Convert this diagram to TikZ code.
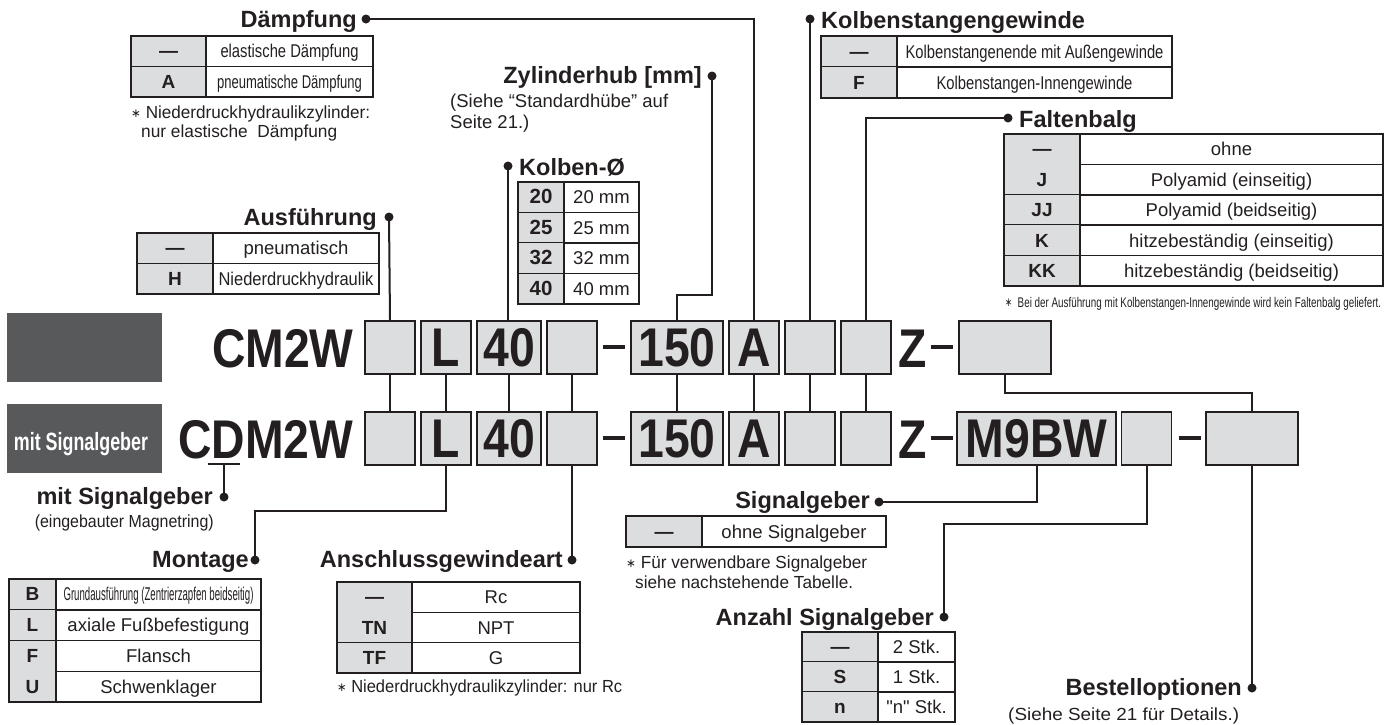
\documentclass[tikz,border=0pt]{standalone}
\usepackage{fontspec}
\setmainfont{Liberation Sans}
\newfontfamily\symf{DejaVu Sans}
\newfontfamily\plainf{Liberation Sans}
\usepackage{graphicx}
\usetikzlibrary{calc}
\definecolor{ink}{HTML}{231F20}
\definecolor{boxgray}{HTML}{DCDDDE}
\definecolor{slab}{HTML}{58595B}
\newcommand\fitw[2]{\resizebox{#1pt}{\height}{#2}}
\newcommand\fnstar{\raisebox{0.5pt}{\symf\fontsize{12}{12}\selectfont ∗}}
\newcommand\cdtxt[1]{\scalebox{0.85}[1]{\fontsize{54.5}{56}\selectfont\bfseries #1}}
\tikzset{
  ln/.style={line width=2pt, draw=ink},
  codebox/.style={draw=ink, line width=1.6pt, fill=boxgray, inner sep=0pt, minimum height=53pt, minimum width=50pt, text=ink},
  dotn/.style={circle, fill=ink, inner sep=0pt, minimum size=9pt},
  lbl/.style={font=\fontsize{23.5}{28}\selectfont\bfseries, inner sep=0pt, text=ink},
  keytxt/.style={font=\fontsize{19}{22}\selectfont\bfseries, inner sep=0pt, anchor=base, text=ink},
  valtxt/.style={font=\fontsize{18.5}{22}\selectfont, inner sep=0pt, anchor=base, text=ink},
  fn/.style={font=\fontsize{17.5}{20}\selectfont, inner sep=0pt, anchor=base west, text=ink},
  tbouter/.style={draw=ink, line width=2pt},
  tbinner/.style={draw=ink, line width=1.5pt},
  dashbar/.style={fill=ink, inner sep=0pt, minimum width=22pt, minimum height=4pt},
  codetxt/.style={inner sep=0pt, text=ink},
}
\newcommand\mktable[7]{%
  \foreach \k/\v [count=\i] in {#7} {%
    \pgfmathsetmacro\ya{#5+(\i-1)*#6}%
    \pgfmathsetmacro\yb{#5+\i*#6}%
    \pgfmathsetmacro\ybase{#5+(\i-0.5)*#6+6.6}%
    \fill[boxgray] (#2,\ya) rectangle (#3,\yb);
    \draw[tbinner] (#2,\yb) -- (#4,\yb);
    \node[keytxt] (#1k\i) at ({(#2+#3)/2},\ybase) {\k};
    \node[valtxt] (#1v\i) at ({(#3+#4)/2},\ybase) {\v};
    \xdef\lastrow{\yb}%
  }%
  \draw[tbinner] (#3,#5) -- (#3,\lastrow);
  \draw[tbouter] (#2,#5) rectangle (#4,\lastrow);
}
\begin{document}
\begin{tikzpicture}[x=1pt,y=-1pt]
\useasboundingbox (0,0) rectangle (1391,724);

% ---------- dark side boxes ----------
\node[fill=slab, inner sep=0pt, minimum width=155pt, minimum height=69pt] (darkA) at (84.5,347.5) {};
\node[fill=slab, inner sep=0pt, minimum width=155pt, minimum height=69pt] (darkB) at (84.5,438.5) {};
\node[font=\fontsize{25}{27}\selectfont\bfseries, text=white, inner sep=0pt, anchor=base] (darkBt) at (81,450) {\fitw{134}{mit Signalgeber}};

% ---------- code rows ----------
\node[codetxt, anchor=base west] (cm) at (212,367) {\cdtxt{CM2W}};
\node[codetxt, anchor=base west] (cdm) at (178,458) {\cdtxt{CDM2W}};

\node[codebox] (t1) at (390,347.5) {};
\node[codebox] (tL) at (446,347.5) {\cdtxt{L}};
\node[codebox, minimum width=64pt] (t40) at (509,347.5) {\cdtxt{40}};
\node[codebox] (t4) at (572,347.5) {};
\node[dashbar] (tdash) at (614,347) {};
\node[codebox, minimum width=92pt] (t150) at (677,347.5) {\cdtxt{150}};
\node[codebox] (tA) at (754,347.5) {\cdtxt{A}};
\node[codebox] (t7) at (810,347.5) {};
\node[codebox] (t8) at (866,347.5) {};
\node[codetxt, anchor=base west] (tZ) at (898,367) {\cdtxt{Z}};
\node[dashbar] (tdash2) at (942,347) {};
\node[codebox, minimum width=92pt] (t9) at (1005,347.5) {};

\node[codebox] (u1) at (390,438.5) {};
\node[codebox] (uL) at (446,438.5) {\cdtxt{L}};
\node[codebox, minimum width=64pt] (u40) at (509,438.5) {\cdtxt{40}};
\node[codebox] (u4) at (572,438.5) {};
\node[dashbar] (udash) at (614,438) {};
\node[codebox, minimum width=92pt] (u150) at (677,438.5) {\cdtxt{150}};
\node[codebox] (uA) at (754,438.5) {\cdtxt{A}};
\node[codebox] (u7) at (810,438.5) {};
\node[codebox] (u8) at (866,438.5) {};
\node[codetxt, anchor=base west] (uZ) at (898,458) {\cdtxt{Z}};
\node[dashbar] (udash2) at (942,438) {};
\node[codebox, minimum width=159pt] (uM) at (1036.5,438.5) {\cdtxt{M9BW}};
\node[codebox] (u11) at (1146.5,438.5) {};
\node[dashbar] (udash3) at (1189.5,438) {};
\node[codebox, minimum width=92pt] (u12) at (1252,438.5) {};

\foreach \n in {1,L,40,4,150,A,7,8} {\draw[ln] (t\n.south) -- (u\n.north);}
\coordinate (k9) at (1005,393);
\draw[ln] (t9.south) -- (k9) -| (u12.north);

% ---------- dots ----------
\node[dotn] (dDae) at (366,19) {};
\node[dotn] (dAus) at (389,217) {};
\node[dotn] (dKol) at (508,166) {};
\node[dotn] (dZyl) at (712,76) {};
\node[dotn] (dKst) at (810,19) {};
\node[dotn] (dFal) at (1008,118) {};
\node[dotn] (dMit) at (224,497) {};
\node[dotn] (dMon) at (255,560) {};
\node[dotn] (dAns) at (572,560) {};
\node[dotn] (dSig) at (879,502) {};
\node[dotn] (dAnz) at (944,617) {};
\node[dotn] (dBes) at (1252,688) {};

% ---------- labels ----------
\node[lbl, anchor=base east] (lDae) at (357,27) {Dämpfung};
\node[lbl, anchor=base east] (lAus) at (377,225) {Ausführung};
\node[lbl, anchor=base west] (lKol) at (519,175) {Kolben-Ø};
\node[lbl, anchor=base east] (lZyl) at (702,83) {Zylinderhub [mm]};
\node[lbl, anchor=base west] (lKst) at (821,28) {Kolbenstangengewinde};
\node[lbl, anchor=base west] (lFal) at (1019,127) {Faltenbalg};
\node[lbl, anchor=base east] (lMit) at (213,504) {mit Signalgeber};
\node[lbl, anchor=base east] (lMon) at (249,567) {Montage};
\node[lbl, anchor=base east] (lAns) at (563,567) {Anschlussgewindeart};
\node[lbl, anchor=base east] (lSig) at (870,508) {Signalgeber};
\node[lbl, anchor=base east] (lAnz) at (934,625) {Anzahl Signalgeber};
\node[lbl, anchor=base east] (lBes) at (1242,695) {Bestelloptionen};

% ---------- connectors ----------
\draw[ln] (dDae.center) -| (tA.north);
\draw[ln] (dAus.center) -- (t1.north);
\draw[ln] (dKol.center) -- (dKol |- t40.north);
\coordinate (kZyl) at (712,295);
\draw[ln] (dZyl.center) -- (kZyl) -| (t150.north);
\draw[ln] (dKst.center) -- (t7.north);
\draw[ln] (t8.north) |- (dFal.center);
\coordinate (dA) at ($(cdm.base west)+(30,6)$);
\coordinate (dB) at ($(cdm.base west)+(62,6)$);
\coordinate (dM) at ($(cdm.base west)+(46,6)$);
\draw[ln] (dA) -- (dB);
\draw[ln] (dM) -- (dM |- dMit.center);
\coordinate (kMon) at (446,511);
\draw[ln] (uL.south) -- (kMon) -| (dMon.center);
\draw[ln] (u4.south) -- (dAns.center);
\draw[ln] (uM.south) |- (dSig.center);
\coordinate (kAnz) at (1146.5,524);
\draw[ln] (u11.south) -- (kAnz) -| (dAnz.center);
\draw[ln] (u12.south) -- (dBes.center);

% ---------- tables ----------
\mktable{tD}{131}{206}{373}{36}{30.5}{{—}/{\fitw{138}{elastische Dämpfung}},{A}/{\fitw{145}{pneumatische Dämpfung}}}
\mktable{tAu}{137}{213}{379}{233}{30.5}{{—}/{pneumatisch},{H}/{\fitw{155}{Niederdruckhydraulik}}}
\mktable{tK}{518}{564}{639}{182}{30.5}{{\fontsize{20.5}{22}\selectfont 20}/{20 mm},{\fontsize{20.5}{22}\selectfont 25}/{25 mm},{\fontsize{20.5}{22}\selectfont 32}/{32 mm},{\fontsize{20.5}{22}\selectfont 40}/{40 mm}}
\mktable{tKs}{821}{897}{1172}{36}{31}{{—}/{\fitw{258}{Kolbenstangenende mit Außengewinde}},{F}/{\fitw{196}{Kolbenstangen-Innengewinde}}}
\mktable{tF}{1004}{1080}{1383}{134}{30.4}{{—}/{ohne},{J}/{Polyamid (einseitig)},{JJ}/{Polyamid (beidseitig)},{K}/{hitzebeständig (einseitig)},{KK}/{hitzebeständig (beidseitig)}}
\mktable{tM}{9}{56}{261}{579}{30.75}{{B}/{\fitw{190}{Grundausführung (Zentrierzapfen beidseitig)}},{L}/{axiale Fußbefestigung},{F}/{Flansch},{U}/{Schwenklager}}
\mktable{tA}{337}{412}{580}{582}{30.33}{{—}/{Rc},{TN}/{NPT},{TF}/{G}}
\mktable{tS}{626}{702}{886}{516}{31}{{—}/{ohne Signalgeber}}
\mktable{tN}{802}{878}{955}{632}{30}{{—}/{2 Stk.},{S}/{1 Stk.},{n}/{{\plainf"n" Stk.}}}

% ---------- notes ----------
\node[fn] (fnD1) at (131,118) {\fitw{239}{\fnstar\ Niederdruckhydraulikzylinder:}};
\node[fn] (fnD2) at (141,137) {\fitw{196}{nur elastische\ \ Dämpfung}};
\node[fn, font=\fontsize{18.5}{20}\selectfont] (fnZ1) at (450,107) {\fitw{218}{(Siehe “Standardhübe” auf}};
\node[fn, font=\fontsize{18.5}{20}\selectfont] (fnZ2) at (450,128) {Seite 21.)};
\node[fn, font=\fontsize{14}{16}\selectfont] (fnF) at (1005,307) {\fitw{376}{\fnstar\ \ Bei der Ausführung mit Kolbenstangen-Innengewinde wird kein Faltenbalg geliefert.}};
\node[fn, anchor=base east] (fnMit) at (214,527) {\fitw{179}{(eingebauter Magnetring)}};
\node[fn] (fnS1) at (626,568) {\fitw{241}{\fnstar\ Für verwendbare Signalgeber}};
\node[fn] (fnS2) at (635,588) {\fitw{218}{siehe nachstehende Tabelle.}};
\node[fn] (fnA) at (337,692) {\fitw{285}{\fnstar\ Niederdruckhydraulikzylinder: nur Rc}};
\node[fn] (fnB) at (1008,720) {\fitw{231}{(Siehe Seite 21 für Details.)}};
\end{tikzpicture}
\end{document}
